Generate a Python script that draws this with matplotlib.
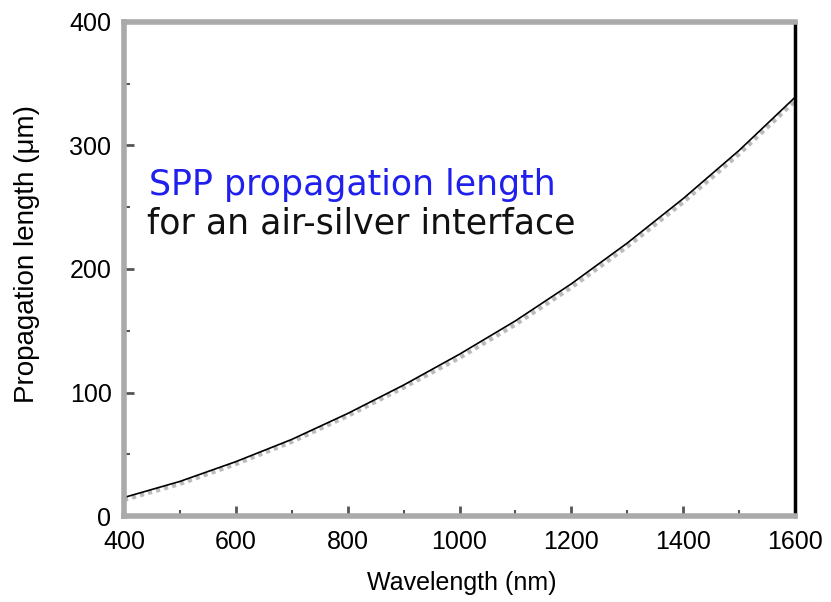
import numpy as np
import matplotlib.pyplot as plt
from matplotlib.ticker import MultipleLocator

# values
wavelength = [400, 500, 600, 700, 800, 900, 1000, 1100, 1200, 1300, 1400, 1500, 1600]
length_calc = [15, 28, 44, 62, 83, 106, 131, 158, 188, 221, 257, 296, 339]
length_fit = [13, 26, 42, 60, 81, 104, 128, 155, 185, 218, 254, 293, 336]

fig = plt.figure(figsize=(8.31, 6.02), dpi=100)
ax = fig.add_axes([124/831, 1 - 516/602, 671/831, 494/602])

ax.plot(wavelength, length_fit, color='#bbbbbb', lw=3, ls=(0, (1, 1)))
ax.plot(wavelength, length_calc, color='black', lw=1.2)

ax.set_xlim(400, 1600)
ax.set_ylim(0, 400)
ax.xaxis.set_major_locator(MultipleLocator(200))
ax.xaxis.set_minor_locator(MultipleLocator(100))
ax.yaxis.set_major_locator(MultipleLocator(100))
ax.yaxis.set_minor_locator(MultipleLocator(50))
ax.tick_params(which='both', direction='in', colors='#555555', labelcolor='black')
ax.tick_params(which='major', length=7, width=2)
ax.tick_params(which='minor', length=4, width=1.5)
ax.tick_params(axis='x', pad=10)
ax.tick_params(axis='y', pad=9)
for lbl in ax.get_xticklabels() + ax.get_yticklabels():
    lbl.set_fontfamily('Liberation Sans')
    lbl.set_fontsize(18)

for side in ['left', 'top', 'bottom']:
    ax.spines[side].set_color('#aaaaaa')
    ax.spines[side].set_linewidth(4)
ax.spines['right'].set_color('black')
ax.spines['right'].set_linewidth(2.5)

ax.set_xlabel('Wavelength (nm)', fontsize=18, family='Liberation Sans')
ax.set_ylabel('Propagation length (\u03bcm)', fontsize=20, family='Liberation Sans')
ax.xaxis.set_label_coords(0.503, -0.112)
ax.yaxis.set_label_coords(-0.125, 0.53)

ax.text(0.037, 0.650, 'SPP propagation length', transform=ax.transAxes,
        color='#2020ee', fontsize=25, va='baseline')
ax.text(0.034, 0.571, 'for an air-silver interface', transform=ax.transAxes,
        color='#111111', fontsize=25, va='baseline')

fig.savefig('out.png', dpi=100)
